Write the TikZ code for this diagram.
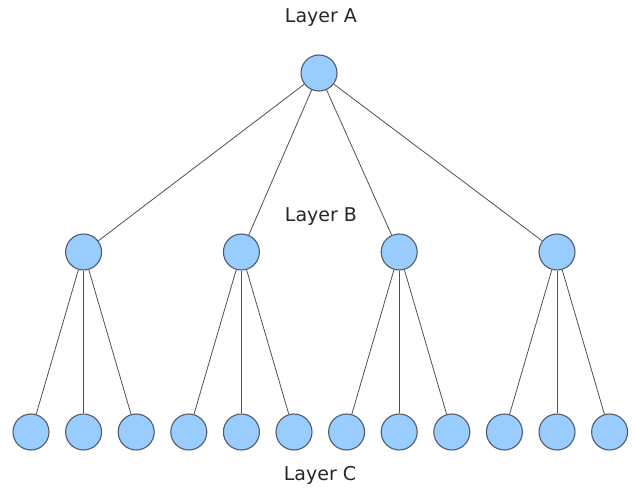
\documentclass[tikz,border=0pt]{standalone}
\usepackage{fontspec}
\setmainfont{DejaVu Sans}
\definecolor{nodefill}{HTML}{99CCFF}
\definecolor{nodeborder}{HTML}{505C6C}
\definecolor{edgecol}{HTML}{505050}
\begin{document}
\begin{tikzpicture}[x=1pt,y=-1pt,
  tnode/.style={circle,draw=nodeborder,fill=nodefill,line width=1.1pt,minimum size=36pt,inner sep=0pt},
  edge/.style={draw=edgecol,line width=0.8pt},
  lbl/.style={font=\fontsize{19}{21}\selectfont,text=black!85}]
\useasboundingbox (0,0) rectangle (635,492);
\node[tnode] (A) at (319,73) {};
\node[lbl] (la) at (321,18) {Layer A};
\node[lbl] (lb) at (321,217) {Layer B};
\node[lbl] (lc) at (320,475) {Layer C};
\foreach \j in {0,...,3}{
  \pgfmathsetmacro{\bx}{31+52.6*(3*\j+1)}
  \node[tnode] (B\j) at (\bx,252) {};
  \draw[edge] (A) -- (B\j);
  \foreach \k in {0,1,2}{
    \pgfmathsetmacro{\cx}{31+52.6*(3*\j+\k)}
    \node[tnode] (C\j\k) at (\cx,432) {};
    \draw[edge] (B\j) -- (C\j\k);
  }
}
\end{tikzpicture}
\end{document}
